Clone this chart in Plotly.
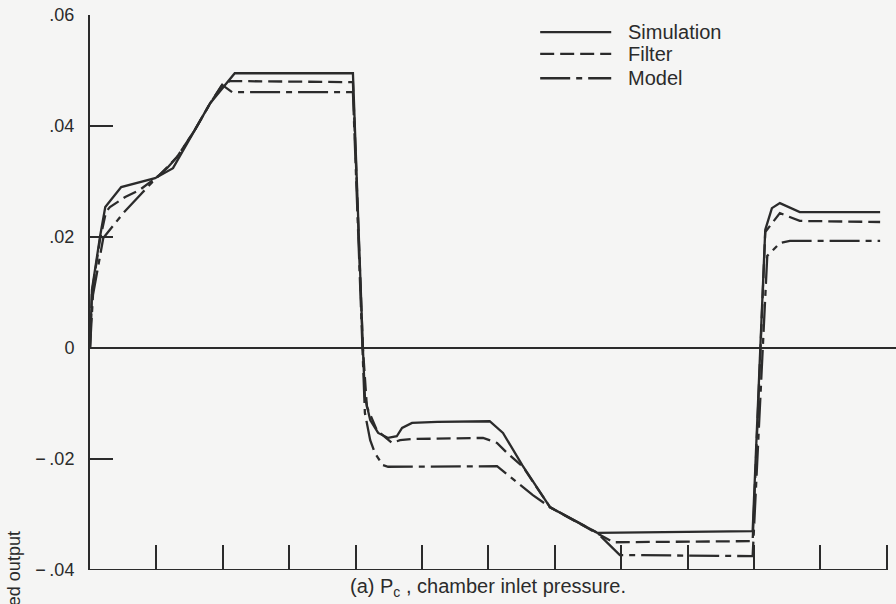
import plotly.graph_objects as go

# ---- data (time units, normalized output) ----
t_sim = [0, 0.03, 0.15, 0.23, 0.47, 0.98, 1.25, 1.58, 1.81, 2.18, 3.96, 4.11, 4.14, 4.22, 4.34,
         4.49, 4.62, 4.70, 4.85, 5.23, 6.02, 6.22, 6.51, 6.93, 7.64, 9.98, 10.17, 10.27, 10.39,
         10.69, 11.90]
y_sim = [0, 0.0105, 0.0200, 0.0254, 0.0290, 0.0306, 0.0324, 0.0393, 0.0441, 0.0495, 0.0495, 0.0,
         -0.0088, -0.0130, -0.0153, -0.0162, -0.0159, -0.0144, -0.0135, -0.0133, -0.0132, -0.0153,
         -0.0211, -0.0287, -0.0333, -0.0330, 0.0213, 0.0252, 0.0261, 0.0245, 0.0245]

t_filt = [0, 0.03, 0.15, 0.24, 0.30, 0.53, 0.75, 1.05, 1.31, 1.58, 1.81, 1.99, 2.11, 3.96, 4.11,
          4.17, 4.32, 4.55, 4.67, 4.86, 5.92, 6.13, 6.28, 6.52, 6.93, 7.64, 7.88, 9.98, 10.17,
          10.39, 10.69, 11.90]
y_filt = [0, 0.0101, 0.0195, 0.0245, 0.0254, 0.0272, 0.0285, 0.0312, 0.0344, 0.0393, 0.0441,
          0.0474, 0.0481, 0.0479, 0.0, -0.0106, -0.0148, -0.0171, -0.0166, -0.0164, -0.0162,
          -0.0171, -0.0189, -0.0214, -0.0287, -0.0333, -0.0350, -0.0348, 0.0209, 0.0243, 0.0229,
          0.0227]

t_model = [0, 0.045, 0.20, 0.50, 0.78, 1.01, 1.16, 1.31, 1.58, 1.81, 1.99, 2.14, 3.96, 4.11,
           4.14, 4.22, 4.29, 4.41, 4.49, 6.13, 6.33, 6.67, 6.93, 7.64, 7.98, 9.98, 10.20, 10.39,
           10.54, 11.90]
y_model = [0, 0.0096, 0.0198, 0.0243, 0.0279, 0.0308, 0.0324, 0.0344, 0.0393, 0.0441, 0.0474,
           0.0461, 0.0461, 0.0, -0.0117, -0.0166, -0.0189, -0.0211, -0.0214, -0.0213, -0.0232,
           -0.0265, -0.0287, -0.0333, -0.0373, -0.0375, 0.0166, 0.0189, 0.0193, 0.0193]

series_names = ["Simulation", "Filter", "Model"]
y_tickvals = [-0.04, -0.02, 0, 0.02, 0.04, 0.06]
y_ticktext = ["\u2212\u2009.04", "\u2212\u2009.02", "0", ".02", ".04", ".06"]
x_tickvals = [1, 2, 3, 4, 5, 6, 7, 8, 9, 10, 11, 12]
caption = "(a) P<sub>c</sub> , chamber inlet pressure."
y_title = "Normalized output"

# ---- styling ----
INK = "#2b2b2b"
BG = "#f5f5f4"
FONT = "Liberation Sans"
dashes = ["solid", "14px,6px", "30px,6px,6px,6px"]
LW = 2.3

fig = go.Figure()
for name, t, y, d in zip(series_names, [t_sim, t_filt, t_model], [y_sim, y_filt, y_model], dashes):
    fig.add_trace(go.Scatter(x=t, y=y, mode="lines", name=name, showlegend=False,
                             line=dict(color=INK, width=LW, dash=d)))

# manual legend (line samples + labels)
leg_y = [0.0569, 0.0530, 0.0486]
for name, d, ly in zip(series_names, dashes, leg_y):
    fig.add_shape(type="line", xref="x", yref="y", x0=6.78, x1=7.85, y0=ly, y1=ly,
                  line=dict(color=INK, width=LW, dash=d))
    fig.add_annotation(x=8.08, y=ly, xref="x", yref="y", text=name, showarrow=False,
                       xanchor="left", yanchor="middle",
                       font=dict(family=FONT, size=20, color=INK))

# bottom axis line (ends at last tick)
fig.add_shape(type="line", xref="x", yref="y", x0=0, x1=12, y0=-0.04, y1=-0.04,
              line=dict(color=INK, width=2))

# caption
fig.add_annotation(x=5.99, y=-0.031, xref="x", yref="paper", text=caption, showarrow=False,
                   xanchor="center", yanchor="middle",
                   font=dict(family=FONT, size=20, color=INK))

# y-axis title (cut off by page edge as in the original)
fig.add_annotation(x=-0.094, y=0.074, xref="paper", yref="paper", text=y_title,
                   showarrow=False, textangle=-90, xanchor="center", yanchor="top",
                   font=dict(family=FONT, size=18, color=INK))

fig.update_layout(
    width=896, height=604, autosize=False,
    margin=dict(l=90, r=0, t=15, b=34),
    paper_bgcolor=BG, plot_bgcolor=BG,
    font=dict(family=FONT, size=18, color=INK),
    showlegend=False,
)
fig.update_xaxes(range=[0, 12.139], showgrid=False, zeroline=False, showline=False,
                 tickmode="array", tickvals=x_tickvals, ticks="inside", ticklen=25,
                 tickwidth=2, tickcolor=INK, showticklabels=False, fixedrange=True)
fig.update_yaxes(range=[-0.04, 0.06], showgrid=False, zeroline=True, zerolinecolor=INK,
                 zerolinewidth=1.5, showline=True, linecolor=INK, linewidth=2,
                 tickmode="array", tickvals=y_tickvals, ticktext=y_ticktext,
                 ticks="inside", ticklen=23, tickwidth=2, tickcolor=INK,
                 ticklabelstandoff=10, tickfont=dict(family=FONT, size=18, color=INK),
                 fixedrange=True)

fig.write_html("out.html")
